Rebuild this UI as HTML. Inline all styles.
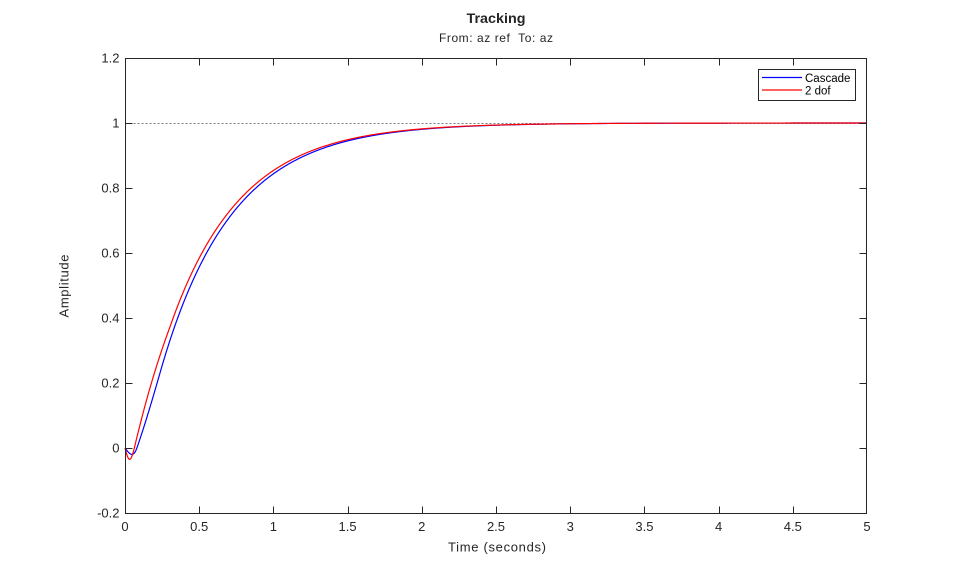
<!DOCTYPE html>
<html>
<head>
<meta charset="utf-8">
<style>
  html, body { margin: 0; padding: 0; background: #ffffff; }
  body { width: 959px; height: 577px; overflow: hidden; }
  svg { display: block; }
  text { font-family: "Liberation Sans", Arial, sans-serif; fill: #262626; }
</style>
</head>
<body>
<svg id="chart" width="959" height="577" viewBox="0 0 959 577" xmlns="http://www.w3.org/2000/svg">
  <rect x="0" y="0" width="959" height="577" fill="#ffffff"/>

  <!-- Title -->
  <text x="496" y="23" font-size="14" font-weight="bold" text-anchor="middle" textLength="59" lengthAdjust="spacingAndGlyphs">Tracking</text>
  <text x="496" y="42" font-size="12" text-anchor="middle" textLength="114" lengthAdjust="spacing">From: az ref&#160;&#160;To: az</text>

  <!-- Plot background -->
  <rect x="125.5" y="58.5" width="741" height="455" fill="#ffffff"/>

  <!-- Reference dotted line at 1 -->
  <line x1="125.5" y1="123.5" x2="866.5" y2="123.5" stroke="#7a7a7a" stroke-width="1" stroke-dasharray="2 2"/>

  <!-- Curves -->
  <path id="blue" d="" fill="none" stroke="#0000ff" stroke-width="1.2" stroke-linejoin="round"/>
  <path id="red" d="" fill="none" stroke="#ff0000" stroke-width="1.2" stroke-linejoin="round"/>

  <!-- Axes box -->
  <rect x="125.5" y="58.5" width="741" height="455" fill="none" stroke="#262626" stroke-width="1"/>

  <g id="ticks" stroke="#262626" stroke-width="1"></g>
  <g id="labels"></g>

  <!-- Axis labels -->
  <text x="497" y="551.5" font-size="13" text-anchor="middle" textLength="98" lengthAdjust="spacing">Time (seconds)</text>
  <text x="0" y="0" font-size="13" text-anchor="middle" textLength="63" lengthAdjust="spacing" transform="translate(68.5,286) rotate(-90)">Amplitude</text>

  <!-- Legend -->
  <rect x="758.5" y="69.5" width="97" height="31" fill="#ffffff" stroke="#262626" stroke-width="1"/>
  <line x1="762" y1="77.5" x2="802" y2="77.5" stroke="#0000ff" stroke-width="1.2"/>
  <line x1="762" y1="90" x2="802" y2="90" stroke="#ff0000" stroke-width="1.2"/>
  <text x="805" y="82" font-size="11.5" style="fill:#000">Cascade</text>
  <text x="805" y="94.5" font-size="11.5" style="fill:#000">2 dof</text>
</svg>

<script>
(function(){
  var X = function(t){ return 125 + t*148.4; };
  var Y = function(v){ return 448 - v*325; };

  function red(t){
    if (t < 0.063) return -0.035*Math.sin(Math.PI*t/0.063);
    var d = 0.063 + 0.017*Math.min(1,(t-0.063)/0.237);
    return 1 - Math.exp(-2.09*(t-d));
  }
  function blue(t){
    if (t < 0.08) {
      var L = 0.08, s = t/L, m0 = -0.6, m1 = 1.3;
      return L*(m0*(s*s*s - 2*s*s + s) + m1*(s*s*s - s*s));
    }
    var s2 = Math.min(1,(t-0.08)/0.16);
    var d = 0.11 - 0.03*(1-s2)*(1-s2);
    return 1 - Math.exp(-2.085*(t-d));
  }
  function build(f){
    var p = [];
    for (var i=0;i<=2000;i++){
      var t = i*0.0025;
      p.push((i?'L':'M') + X(t).toFixed(2) + ' ' + Y(f(t)).toFixed(2));
    }
    return p.join(' ');
  }
  document.getElementById('red').setAttribute('d', build(red));
  document.getElementById('blue').setAttribute('d', build(blue));

  var NS = 'http://www.w3.org/2000/svg';
  var tg = document.getElementById('ticks');
  var lg = document.getElementById('labels');
  function line(x1,y1,x2,y2){
    var l = document.createElementNS(NS,'line');
    l.setAttribute('x1',x1); l.setAttribute('y1',y1);
    l.setAttribute('x2',x2); l.setAttribute('y2',y2);
    tg.appendChild(l);
  }
  function text(x,y,s,anchor){
    var e = document.createElementNS(NS,'text');
    e.setAttribute('x',x); e.setAttribute('y',y);
    e.setAttribute('font-size','13');
    e.setAttribute('text-anchor',anchor);
    e.textContent = s;
    lg.appendChild(e);
  }
  // x ticks
  var xl = ['0','0.5','1','1.5','2','2.5','3','3.5','4','4.5','5'];
  for (var i=0;i<=10;i++){
    var x = Math.round(X(i*0.5)) + 0.5;
    if (i===0) x = 125.5;
    if (i===10) x = 866.5;
    line(x,513.5,x,506.5);
    line(x,58.5,x,65.5);
    text(X(i*0.5), 531, xl[i], 'middle');
  }
  // y ticks
  var yl = ['-0.2','0','0.2','0.4','0.6','0.8','1','1.2'];
  for (var j=0;j<8;j++){
    var v = -0.2 + j*0.2;
    var y = Math.round(Y(v)) + 0.5;
    line(125.5,y,132.5,y);
    line(866.5,y,859.5,y);
    text(119.5, Y(v)+4.5, yl[j], 'end');
  }
})();
</script>
</body>
</html>
